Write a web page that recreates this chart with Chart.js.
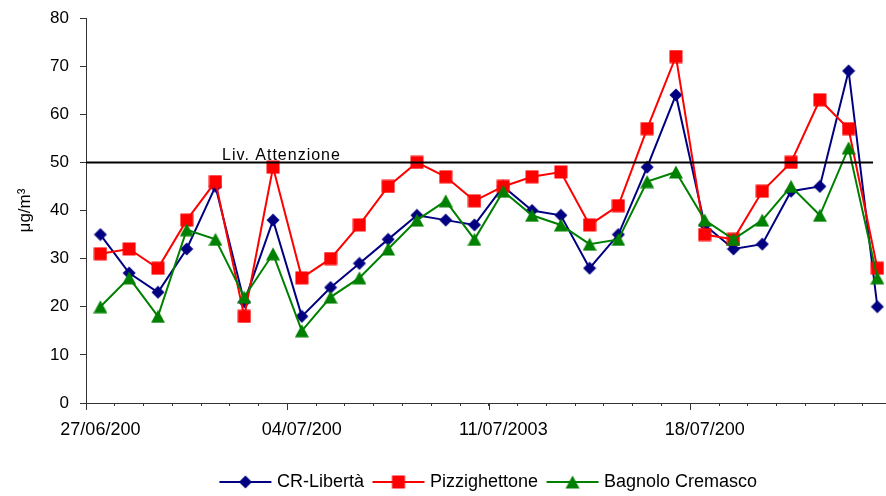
<!DOCTYPE html>
<html><head><meta charset="utf-8">
<script src="https://cdn.jsdelivr.net/npm/chart.js@4.4.0/dist/chart.umd.min.js"></script>
<style>html,body{margin:0;padding:0;background:#fff}#wrap{width:886px;height:496px;position:relative}</style>
</head><body><div id="wrap"><canvas id="c"></canvas></div>
<script>
const categories = ['27/06/2003','28/06/2003','29/06/2003','30/06/2003','01/07/2003','02/07/2003','03/07/2003',
  '04/07/2003','05/07/2003','06/07/2003','07/07/2003','08/07/2003','09/07/2003','10/07/2003',
  '11/07/2003','12/07/2003','13/07/2003','14/07/2003','15/07/2003','16/07/2003','17/07/2003',
  '18/07/2003','19/07/2003','20/07/2003','21/07/2003','22/07/2003','23/07/2003','24/07/2003'];
const crLiberta     = [35,27,23,32,45,21,38,18,24,29,34,39,38,37,45,40,39,28,35,49,64,37,32,33,44,45,69,20];
const pizzighettone = [31,32,28,38,46,18,49,26,30,37,45,50,47,42,45,47,48,37,41,57,72,35,34,44,50,63,57,28];
const bagnolo       = [20,26,18,36,34,22,31,15,22,26,32,38,42,34,44,39,37,33,34,46,48,38,34,38,45,39,53,26];
const seriesNames = ['CR-Libertà','Pizzighettone','Bagnolo Cremasco'];
const tickLabels = ['27/06/200','04/07/200','11/07/2003','18/07/200'];
const tickIndices = [0,7,14,21];
const yTicks = [0,10,20,30,40,50,60,70,80];
const thresholdValue = 50;
const thresholdLabel = 'Liv. Attenzione';

const FONT = 'Liberation Sans, Arial, sans-serif';
const colors = ['#000080','#FF0000','#008000'];
const shapes = ['diamond','square','triangle'];

function drawShape(ctx, shape, cx, cy, color){
  ctx.fillStyle = color;
  ctx.beginPath();
  if (shape === 'diamond'){
    ctx.moveTo(cx, cy-6.5); ctx.lineTo(cx+6.5, cy); ctx.lineTo(cx, cy+6.5); ctx.lineTo(cx-6.5, cy);
  } else if (shape === 'square'){
    ctx.rect(cx-6.5, cy-6.5, 13, 13);
  } else {
    ctx.moveTo(cx, cy-6.5); ctx.lineTo(cx+7, cy+6.5); ctx.lineTo(cx-7, cy+6.5);
  }
  ctx.closePath(); ctx.fill();
}
function makeMarker(shape, color){
  const c = document.createElement('canvas'); c.width = 14; c.height = 14;
  drawShape(c.getContext('2d'), shape, 7, 7, color);
  return c;
}
function makeLegendImg(shape, color){
  const c = document.createElement('canvas'); c.width = 64; c.height = 14;
  const g = c.getContext('2d');
  g.strokeStyle = color; g.lineWidth = 2;
  g.beginPath(); g.moveTo(10,7); g.lineTo(62,7); g.stroke();
  drawShape(g, shape, 36, 7, color);
  return c;
}
const markers = shapes.map((s,i)=>makeMarker(s, colors[i]));
const legendImgs = shapes.map((s,i)=>makeLegendImg(s, colors[i]));

const seriesValues = [crLiberta, pizzighettone, bagnolo];
const datasets = seriesValues.map((vals, k) => ({
  label: seriesNames[k],
  data: vals.map((v,i)=>({x: i + 0.5, y: v})),
  borderColor: colors[k],
  backgroundColor: colors[k],
  borderWidth: 2,
  pointStyle: markers[k],
  pointRadius: 6,
  pointHoverRadius: 6,
  tension: 0,
  order: 3 - k
}));

const thresholdPlugin = {
  id: 'threshold',
  afterDatasetsDraw(chart){
    const xs = chart.scales.x, ys = chart.scales.y, ctx = chart.ctx;
    const py = ys.getPixelForValue(thresholdValue);
    ctx.save();
    ctx.strokeStyle = '#000'; ctx.lineWidth = 2;
    ctx.beginPath();
    ctx.moveTo(xs.getPixelForValue(0), py);
    ctx.lineTo(xs.getPixelForValue(27.35), py);
    ctx.stroke();
    ctx.fillStyle = '#000';
    ctx.font = '16px ' + FONT;
    try { ctx.letterSpacing = '1px'; } catch(e){}
    ctx.textBaseline = 'alphabetic';
    ctx.textAlign = 'left';
    ctx.fillText(thresholdLabel, xs.getPixelForValue(4.73), py - 2);
    ctx.restore();
  },
  afterDraw(chart){
    const xs = chart.scales.x, ctx = chart.ctx, b = chart.chartArea.bottom;
    ctx.save();
    ctx.strokeStyle = '#333'; ctx.lineWidth = 1;
    tickIndices.forEach(idx => {
      const px = Math.round(xs.getPixelForValue(idx)) + 0.5;
      ctx.beginPath(); ctx.moveTo(px, b); ctx.lineTo(px, b + 7); ctx.stroke();
    });
    ctx.restore();
  }
};

new Chart(document.getElementById('c'), {
  type: 'line',
  data: { datasets },
  plugins: [thresholdPlugin],
  options: {
    responsive: true,
    maintainAspectRatio: false,
    devicePixelRatio: 1,
    animation: false,
    layout: { autoPadding: false, padding: { top: 18, left: 0, right: 0, bottom: -5 } },
    plugins: {
      tooltip: { enabled: false },
      legend: {
        position: 'bottom',
        fullSize: false,
        labels: {
          usePointStyle: true,
          pointStyleWidth: 53,
          padding: 4,
          color: '#000',
          font: { family: FONT, size: 18 },
          generateLabels: () => seriesNames.map((n,i)=>({
            text: n, pointStyle: legendImgs[i], fillStyle: colors[i], strokeStyle: colors[i],
            lineWidth: 0, hidden: false, datasetIndex: i, fontColor: '#000'
          }))
        }
      }
    },
    scales: {
      x: {
        type: 'linear',
        min: 0,
        max: 27.8,
        afterBuildTicks(scale){
          const t = categories.map((c,i)=>({value: i}));
          tickIndices.forEach(idx => t.push({value: idx + 0.5}));
          t.sort((a,b)=>a.value-b.value);
          scale.ticks = t;
        },
        afterFit(scale){ scale.paddingLeft = 0; scale.paddingRight = 0; scale.height = 66; },
        ticks: {
          autoSkip: false, maxRotation: 0, minRotation: 0,
          color: '#000', font: { family: FONT, size: 18 }, padding: 13,
          callback: (v) => { const k = tickIndices.indexOf(v - 0.5); return k >= 0 ? tickLabels[k] : ''; }
        },
        grid: {
          drawOnChartArea: false, tickLength: 3,
          tickColor: (ctx) => (ctx.tick && ctx.tick.value % 1 !== 0) ? 'rgba(0,0,0,0)' : '#333'
        },
        border: { color: '#333', width: 1 }
      },
      y: {
        min: 0, max: 80,
        afterBuildTicks(scale){ scale.ticks = yTicks.map(v=>({value:v})); },
        afterFit(scale){ scale.width = 86; scale.paddingTop = 0; scale.paddingBottom = 0; },
        ticks: { color: '#000', font: { family: FONT, size: 17 }, padding: 11 },
        grid: { drawOnChartArea: false, tickLength: 6, color: '#333' },
        border: { color: '#333', width: 1 },
        title: { display: true, text: 'μg/m³', color: '#000', font: { family: FONT, size: 17 }, padding: { top: 15, bottom: 1 } }
      }
    }
  }
});
</script></body></html>
